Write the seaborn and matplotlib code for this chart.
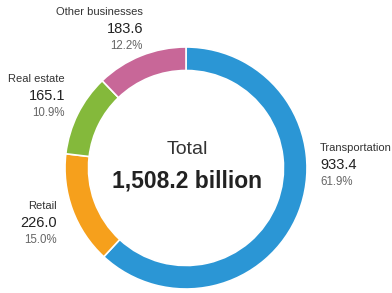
import matplotlib
matplotlib.use("Agg")
import matplotlib.pyplot as plt
import seaborn as sns

# data
sectors = ["Transportation", "Retail", "Real estate", "Other businesses"]
amounts = [933.4, 226.0, 165.1, 183.6]
shares = ["61.9%", "15.0%", "10.9%", "12.2%"]
total_label = "1,508.2 billion"
colors = ["#2b96d5", "#f6a01c", "#84b93b", "#c86798"]

sns.set_theme(style="white")
plt.rcParams["font.family"] = ["Liberation Sans", "DejaVu Sans"]

H = 293  # figure height in px, used to flip y so we can think top-down


def fy(y):
    return H - y


fig = plt.figure(figsize=(3.92, 2.93), dpi=100)
ax = fig.add_axes([0, 0, 1, 1])

# donut, clockwise from 12 o'clock
ax.pie(amounts, colors=colors, startangle=90, counterclock=False,
       center=(186, fy(168)), radius=121,
       wedgeprops=dict(width=23.5, edgecolor="white", linewidth=1.2))

ax.set_xlim(0, 392)
ax.set_ylim(0, H)
ax.set_aspect("equal")
ax.axis("off")

# label positions (x, y of the name line, from the top) and alignment
label_pos = {
    "Transportation": (320, 148, "left"),
    "Retail": (57, 206, "right"),
    "Real estate": (65, 79, "right"),
    "Other businesses": (143, 12, "right"),
}

for name, amt, pct in zip(sectors, amounts, shares):
    x, y, ha = label_pos[name]
    ax.text(x, fy(y), name, ha=ha, va="center", fontsize=8, color="#333333")
    ax.text(x, fy(y + 17), f"{amt:.1f}", ha=ha, va="center", fontsize=10.5,
            color="#222222")
    ax.text(x, fy(y + 34), pct, ha=ha, va="center", fontsize=8.3,
            color="#666666")

ax.text(187, fy(150), "Total", ha="center", va="center", fontsize=14,
        color="#333333")
ax.text(187, fy(181), total_label, ha="center", va="center", fontsize=16.5,
        fontweight="bold", color="#222222")

fig.savefig("out.png", dpi=100)
